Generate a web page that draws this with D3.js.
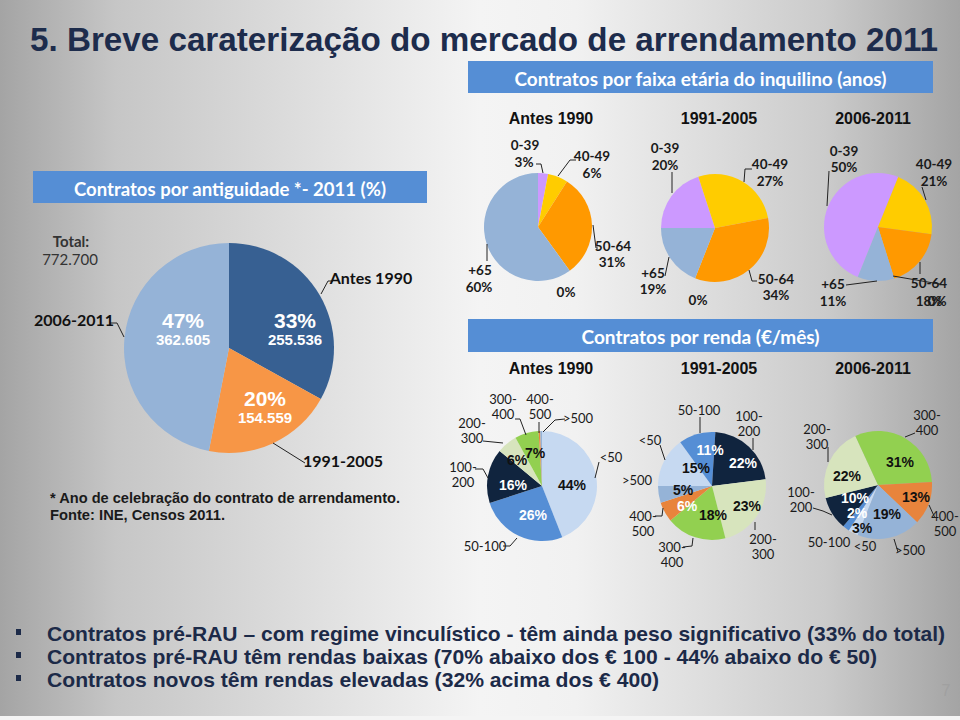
<!DOCTYPE html>
<html><head><meta charset="utf-8">
<script src="https://cdn.jsdelivr.net/npm/d3@7"></script>
<style>html,body{margin:0;padding:0;background:#fff}svg{display:block}</style>
</head><body>
<svg id="chart" width="960" height="720"></svg>
<script>
// ---------------- DATA ----------------
const titulo = "5. Breve caraterização do mercado de arrendamento 2011";
const tituloAntiguidade = "Contratos por antiguidade *- 2011 (%)";
const tituloIdade = "Contratos  por faixa etária do inquilino (anos)";
const tituloRenda = "Contratos  por renda (€/mês)";
const periodos = ["Antes 1990", "1991-2005", "2006-2011"];

const antiguidadeCategorias = ["Antes 1990", "1991-2005", "2006-2011"];
const antiguidadeContratos = [255536, 154559, 362605];
const antiguidadePct = [33, 20, 47];
const totalContratos = 772700;

const faixasEtarias = ["0-39", "40-49", "50-64", "", "+65"];
const idadeAntes1990 = [3, 6, 31, 0, 60];
const idade1991_2005 = [20, 27, 34, 0, 19];
const idade2006_2011 = [50, 21, 18, 0, 11];

const escaloesRenda = ["<50", "50-100", "100-200", "200-300", "300-400", "400-500", ">500"];
const rendaAntes1990 = [44, 26, 16, 6, 7, 0.5, 0.5];
const renda1991_2005 = [15, 11, 22, 23, 18, 6, 5];
const renda2006_2011 = [3, 2, 10, 22, 31, 13, 19];

const notas = ["* Ano de celebração do contrato de arrendamento.", "Fonte: INE, Censos 2011."];
const conclusoes = [
  "Contratos pré-RAU – com regime vinculístico - têm ainda peso significativo (33% do total)",
  "Contratos pré-RAU têm rendas baixas (70% abaixo dos € 100 - 44% abaixo do € 50)",
  "Contratos novos têm rendas elevadas (32% acima dos € 400)"
];
const numeroPagina = "7";

// ---------------- STYLE / LAYOUT ----------------
const ARIAL = "'Liberation Sans', Arial, sans-serif";
const CAL = "Lato, 'Open Sans', sans-serif";
const deg = Math.PI / 180;
const fmtPT = d3.formatLocale({decimal: ",", thousands: ".", grouping: [3], currency: ["", "€"]}).format(",d");

const corAntiguidade = d3.scaleOrdinal().domain(antiguidadeCategorias).range(["#376092", "#f79646", "#95b3d7"]);
const corIdade = d3.scaleOrdinal().domain(faixasEtarias).range(["#cc99ff", "#ffcc00", "#ff9900", "#999999", "#95b3d7"]);
const corRenda = d3.scaleOrdinal().domain(escaloesRenda).range(["#c6d9f1", "#558ed5", "#10243e", "#d7e4bd", "#92d050", "#e8843c", "#95b3d7"]);

const svg = d3.select("#chart");
const defs = svg.append("defs");
const bg = defs.append("linearGradient").attr("id", "bg").attr("x1", 0).attr("x2", 1).attr("y1", 0).attr("y2", 0);
[[0, "#a4a4a4"], [0.12, "#c6c6c6"], [0.5, "#f4f4f4"], [0.6, "#f1f1f1"], [0.86, "#cbcbcb"], [1, "#a4a4a4"]]
  .forEach(s => bg.append("stop").attr("offset", s[0]).attr("stop-color", s[1]));
svg.append("rect").attr("width", 960).attr("height", 720).attr("fill", "url(#bg)");
svg.append("rect").attr("y", 716).attr("width", 960).attr("height", 4).attr("fill", "#f4f4f4");

function text(g, x, y, s, o = {}) {
  const t = g.append("text").attr("x", x).attr("y", y)
    .attr("font-family", o.family || CAL).attr("font-size", o.size || 13)
    .attr("font-weight", o.weight || "normal").attr("fill", o.fill || "#1a1a1a")
    .attr("text-anchor", o.anchor || "middle").attr("dominant-baseline", o.baseline || "central")
    .text(s);
  if (o.len) t.attr("textLength", o.len).attr("lengthAdjust", "spacingAndGlyphs");
  return t;
}
function leader(g, pts) {
  g.append("path").attr("d", d3.line()(pts)).attr("fill", "none").attr("stroke", "#222").attr("stroke-width", 1);
}

// title
text(svg, 30, 51, titulo, {family: ARIAL, size: 34, weight: "bold", fill: "#1d2c4c", anchor: "start", baseline: "auto", len: 908});

// blue header boxes
function box(x0, x1, y0, y1, s, len) {
  svg.append("rect").attr("x", x0).attr("y", y0).attr("width", x1 - x0).attr("height", y1 - y0).attr("fill", "#558ed5");
  text(svg, (x0 + x1) / 2, (y0 + y1) / 2 + 1, s, {size: 19, weight: "bold", fill: "#fff", len: len});
}
box(33, 427, 171, 203, tituloAntiguidade, 312);
box(468, 933, 61, 93, tituloIdade, 372);
box(468, 933, 319, 352, tituloRenda, 238);

const headerX = [551, 719, 873];
periodos.forEach((p, i) => {
  text(svg, headerX[i], 118, p, {family: ARIAL, size: 16, weight: "bold", fill: "#111"});
  text(svg, headerX[i], 368, p, {family: ARIAL, size: 16, weight: "bold", fill: "#111"});
});

// ---------------- LEFT PIE ----------------
{
  const cx = 229, cy = 348, r = 105;
  const g = svg.append("g").attr("transform", `translate(${cx},${cy})`);
  const arcs = d3.pie().sort(null).value(d => d)(antiguidadeContratos);
  const arc = d3.arc().innerRadius(0).outerRadius(r);
  g.selectAll("path").data(arcs).join("path").attr("d", arc)
    .attr("fill", (d, i) => corAntiguidade(antiguidadeCategorias[i]));
  const inner = [[66, -28], [36, 50], [-46, -28]];
  const outer = [
    {t: [142, -71], l: [[104, -67], [99, -67], [92, -54]]},
    {t: [114, 112], l: [[76, 115], [44, 95]]},
    {t: [-155, -29], l: [[-119, -25], [-112, -25], [-105, -11]]}
  ];
  antiguidadeCategorias.forEach((c, i) => {
    text(g, inner[i][0], inner[i][1], antiguidadePct[i] + "%", {family: ARIAL, size: 21, weight: "bold", fill: "#fff"});
    text(g, inner[i][0], inner[i][1] + 19, fmtPT(antiguidadeContratos[i]), {family: ARIAL, size: 15, weight: "bold", fill: "#fff"});
    leader(g, outer[i].l);
    text(g, outer[i].t[0], outer[i].t[1], c, {size: 16, weight: "bold", fill: "#111"});
  });
  text(svg, 71, 241, "Total:", {size: 15, weight: "bold", fill: "#333"});
  text(svg, 70, 259, fmtPT(totalContratos), {size: 15, fill: "#333"});
}
notas.forEach((n, i) => text(svg, 50, 498 + i * 17, n, {family: ARIAL, size: 14, weight: "bold", fill: "#1a1a1a", anchor: "start", len: i ? 175 : 350}));

// ---------------- AGE PIES ----------------
const idadeSeries = [idadeAntes1990, idade1991_2005, idade2006_2011];
const idadeLayout = [
  {cx: 538, cy: 227, start: 0, labels: [
    {t: [[-13, -82], [-14, -65]], l: [[-2, -63], [3, -63], [5, -54]]},
    {t: [[54, -71], [54, -54]], l: [[38, -67], [32, -67], [20, -51]]},
    {t: [[75, 19], [74, 35]], l: [[55, -2], [58, 21], [60, 21]]},
    {t: [[28, 65]], l: null},
    {t: [[-58, 43], [-59, 60]], l: [[-51, 17], [-51, 34]]}]},
  {cx: 715, cy: 228, start: -90, labels: [
    {t: [[-50, -80], [-50, -63]], l: [[-43, -56], [-43, -35]]},
    {t: [[55, -64], [55, -47]], l: [[37, -59], [30, -59], [29, -46]]},
    {t: [[61, 51], [61, 67]], l: [[34, 42], [37, 53], [42, 53]]},
    {t: [[-17, 72]], l: null},
    {t: [[-62, 45], [-62, 61]], l: [[-46, 29], [-50, 48]]}]},
  {cx: 878, cy: 227, start: -158, labels: [
    {t: [[-34, -76], [-34, -60]], l: [[-49, -56], [-51, -21]]},
    {t: [[56, -63], [56, -46]], l: [[44, -40], [48, -27]]},
    {t: [[51, 56], [51, 74]], l: [[42, 35], [42, 47]]},
    {t: [[59, 74]], l: [[15, 49], [67, 58]]},
    {t: [[-45, 57], [-45, 74]], l: [[-32, 58], [-1, 54]]}]}
];
idadeSeries.forEach((vals, k) => {
  const L = idadeLayout[k];
  const g = svg.append("g").attr("transform", `translate(${L.cx},${L.cy})`);
  const s = L.start * deg;
  const arcs = d3.pie().sort(null).value(d => d).startAngle(s).endAngle(s + 2 * Math.PI)(vals);
  g.selectAll("path").data(arcs).join("path").attr("d", d3.arc().innerRadius(0).outerRadius(54))
    .attr("fill", (d, i) => corIdade(faixasEtarias[i]));
  faixasEtarias.forEach((c, i) => {
    const lab = L.labels[i];
    const lines = c ? [c, vals[i] + "%"] : [vals[i] + "%"];
    lines.forEach((s2, j) => text(g, lab.t[j][0], lab.t[j][1], s2, {size: 13.5, weight: "bold", fill: "#1a1a1a"}));
    if (lab.l) leader(g, lab.l);
  });
});

// ---------------- RENT PIES ----------------
const rendaSeries = [rendaAntes1990, renda1991_2005, renda2006_2011];
const rendaLayout = [
  {cx: 542, cy: 486, r: 55, start: 0,
   outer: [
    {t: [[69, -29]], l: [[57, -24], [53, -8]]},
    {t: [[-57, 60]], l: [[-39, 60], [-32, 60], [-25, 52]]},
    {t: [[-79, -19], [-79, -4]], l: [[-67, -17], [-59, -17], [-54, -8]]},
    {t: [[-70, -63], [-70, -48]], l: [[-59, -45], [-39, -43]]},
    {t: [[-39, -87], [-39, -72]], l: [[-27, -67], [-22, -67], [-16, -51]]},
    {t: [[-2, -87], [-2, -72]], l: [[-3, -64], [-3, -53]]},
    {t: [[36, -68]], l: [[23, -67], [13, -66], [1, -54]]}],
   inner: [[30, -1, "#111"], [-9, 29, "#fff"], [-29, -1, "#fff"], [-25, -26, "#111"], [-7, -33, "#111"], null, null]},
  {cx: 712, cy: 486, r: 54, start: -90,
   outer: [
    {t: [[-62, -46]], l: [[-52, -41], [-47, -26]]},
    {t: [[-13, -76]], l: [[-12, -69], [-12, -53]]},
    {t: [[37, -70], [37, -55]], l: [[41, -48], [41, -36]]},
    {t: [[51, 53], [51, 68]], l: [[43, 36], [43, 44]]},
    {t: [[-40, 61], [-40, 76]], l: [[-29, 61], [-20, 60], [-19, 52]]},
    {t: [[-69, 30], [-69, 45]], l: [[-57, 30], [-50, 30], [-49, 22]]},
    {t: [[-75, -6]], l: null}],
   inner: [[-16, -18, "#111"], [-2, -36, "#fff"], [31, -23, "#fff"], [35, 20, "#111"], [1, 29, "#111"], [-25, 20, "#fff"], [-29, 4, "#111"]]},
  {cx: 878, cy: 485, r: 54, start: -158,
   outer: [
    {t: [[-13, 61]], l: null},
    {t: [[-49, 57]], l: null},
    {t: [[-77, 7], [-77, 22]], l: [[-65, 23], [-55, 26], [-46, 30]]},
    {t: [[-61, -56], [-61, -41]], l: [[-50, -38], [-50, -23]]},
    {t: [[49, -70], [49, -55]], l: [[37, -52], [27, -48]]},
    {t: [[67, 31], [67, 46]], l: [[57, 33], [51, 20]]},
    {t: [[32, 65]], l: [[20, 67], [16, 54]]}],
   inner: [[-16, 43, "#111"], [-21, 28, "#fff"], [-23, 13, "#fff"], [-31, -9, "#111"], [22, -23, "#111"], [38, 12, "#111"], [9, 29, "#111"]]}
];
rendaSeries.forEach((vals, k) => {
  const L = rendaLayout[k];
  const g = svg.append("g").attr("transform", `translate(${L.cx},${L.cy})`);
  const s = L.start * deg;
  const arcs = d3.pie().sort(null).value(d => d).startAngle(s).endAngle(s + 2 * Math.PI)(vals);
  g.selectAll("path").data(arcs).join("path").attr("d", d3.arc().innerRadius(0).outerRadius(L.r))
    .attr("fill", (d, i) => corRenda(escaloesRenda[i]));
  escaloesRenda.forEach((c, i) => {
    const o = L.outer[i];
    const parts = c.split("-");
    const lines = o.t.length === 2 ? [parts[0] + "-", parts[1]] : [c];
    lines.forEach((s2, j) => text(g, o.t[j][0], o.t[j][1], s2, {size: 13, fill: "#1a1a1a"}));
    if (o.l) leader(g, o.l);
    const inn = L.inner[i];
    if (inn) text(g, inn[0], inn[1], Math.round(vals[i]) + "%", {family: ARIAL, size: 14, weight: "bold", fill: inn[2]});
  });
});

// ---------------- BULLETS ----------------
const bulletLen = [898, 830, 612];
conclusoes.forEach((c, i) => {
  const y = 641 + i * 23;
  svg.append("rect").attr("x", 16).attr("y", y - 12).attr("width", 5).attr("height", 6).attr("fill", "#1c2a48");
  text(svg, 47, y, c, {family: ARIAL, size: 21, weight: "bold", fill: "#1c2a48", anchor: "start", baseline: "auto", len: bulletLen[i]});
});
text(svg, 946, 690, numeroPagina, {family: ARIAL, size: 16, fill: "#a0a0a0"});
</script>
</body></html>
